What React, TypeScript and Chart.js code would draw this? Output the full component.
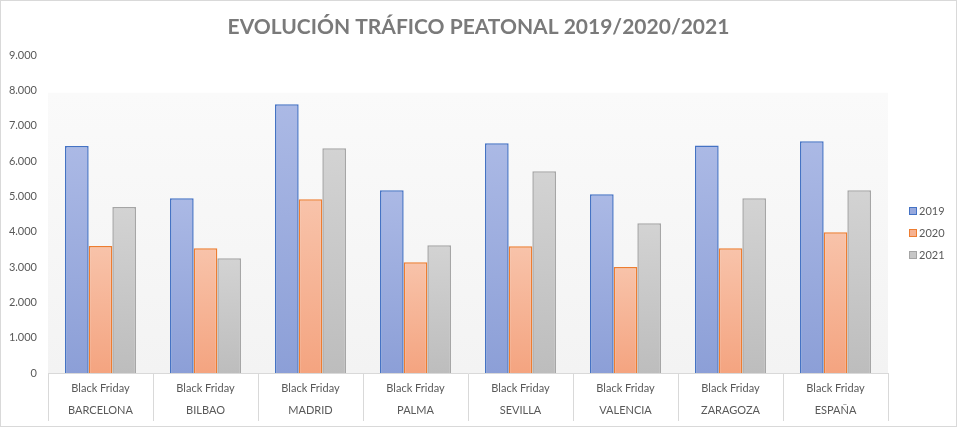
import React, { useEffect, useRef } from 'react';
import { Chart, registerables } from 'chart.js';

Chart.register(...registerables);

const categories = ['BARCELONA', 'BILBAO', 'MADRID', 'PALMA', 'SEVILLA', 'VALENCIA', 'ZARAGOZA', 'ESPAÑA'];
const subLabel = 'Black Friday';
const seriesNames = ['2019', '2020', '2021'];
const values2019 = [6425, 4945, 7605, 5170, 6500, 5060, 6440, 6560];
const values2020 = [3595, 3530, 4915, 3135, 3585, 3000, 3530, 3980];
const values2021 = [4700, 3245, 6360, 3615, 5710, 4235, 4945, 5170];
const yMin = 0;
const yMax = 9000;
const yStep = 1000;
const titleText = 'EVOLUCIÓN TRÁFICO PEATONAL 2019/2020/2021';

const FONT = 'Lato, "Open Sans", sans-serif';
const TEXT = '#595959';

const palette = [
  { top: '#abb9e5', bottom: '#8c9fd7', border: '#4472c4', legend: '#97a9dd' },
  { top: '#f8c3aa', bottom: '#f4a480', border: '#ed7d31', legend: '#f6b291' },
  { top: '#d3d3d3', bottom: '#bdbdbd', border: '#a5a5a5', legend: '#c7c7c7' },
];

function fmt(v: number): string {
  const s = Math.round(v).toString();
  return s.replace(/\B(?=(\d{3})+(?!\d))/g, '.');
}

function barGradient(i: number) {
  return (ctx: any) => {
    const chart = ctx.chart;
    const area = chart.chartArea;
    const ys = chart.scales?.y;
    if (!area || !ys || ctx.raw == null) return palette[i].bottom;
    const top = ys.getPixelForValue(ctx.raw);
    const base = ys.getPixelForValue(0);
    if (!isFinite(top) || !isFinite(base) || base - top < 1) return palette[i].bottom;
    const g = chart.ctx.createLinearGradient(0, top, 0, base);
    g.addColorStop(0, palette[i].top);
    g.addColorStop(1, palette[i].bottom);
    return g;
  };
}

const decorPlugin = {
  id: 'decor',
  beforeDraw(chart: any) {
    const { ctx, width, height } = chart;
    ctx.save();
    ctx.fillStyle = '#ffffff';
    ctx.fillRect(0, 0, width, height);
    ctx.strokeStyle = '#d9d9d9';
    ctx.lineWidth = 1;
    ctx.strokeRect(0.5, 0.5, width - 1, height - 2);
    ctx.fillStyle = '#7a7a7a';
    ctx.font = `bold 21px ${FONT}`;
    ctx.textAlign = 'center';
    ctx.textBaseline = 'middle';
    ctx.fillText(titleText, width / 2, 27);
    ctx.restore();
  },
  beforeDatasetsDraw(chart: any) {
    const { ctx, chartArea } = chart;
    const ys = chart.scales.y;
    const top = ys.getPixelForValue(7930);
    const bottom = chartArea.bottom;
    ctx.save();
    const g = ctx.createLinearGradient(0, top, 0, bottom);
    g.addColorStop(0, '#fafafa');
    g.addColorStop(1, '#f3f3f3');
    ctx.fillStyle = g;
    ctx.fillRect(chartArea.left, top, chartArea.right - chartArea.left, bottom - top);
    ctx.restore();
  },
  afterDraw(chart: any) {
    const { ctx, chartArea } = chart;
    const cx = chartArea.right + 21;
    const cy = (chartArea.top + chartArea.bottom) / 2 + 19;
    ctx.save();
    ctx.font = `11px ${FONT}`;
    ctx.textBaseline = 'middle';
    ctx.textAlign = 'left';
    chart.data.datasets.forEach((ds: any, i: number) => {
      const y = cy + (i - 1) * 22;
      ctx.fillStyle = palette[i].legend;
      ctx.fillRect(cx, y - 4, 8, 8);
      ctx.strokeStyle = palette[i].border;
      ctx.lineWidth = 1;
      ctx.strokeRect(cx + 0.5, y - 3.5, 7, 7);
      ctx.fillStyle = TEXT;
      ctx.fillText(ds.label, cx + 10, y);
    });
    ctx.restore();
  },
};

export default function App() {
  const ref = useRef<HTMLCanvasElement | null>(null);

  useEffect(() => {
    document.body.style.margin = '0';
    const canvas = ref.current;
    if (!canvas) return;
    const series = [values2019, values2020, values2021];
    const chart = new Chart(canvas, {
      type: 'bar',
      data: {
        labels: categories.map((c) => [subLabel, c]),
        datasets: series.map((vals, i) => ({
          label: seriesNames[i],
          data: vals,
          backgroundColor: barGradient(i),
          borderColor: palette[i].border,
          borderWidth: 1.5,
          categoryPercentage: 0.676,
          barPercentage: 1.0,
        })),
      },
      options: {
        responsive: false,
        animation: false,
        devicePixelRatio: 1,
        layout: { padding: { left: 8, right: 69, top: 55, bottom: 0 } },
        plugins: {
          legend: { display: false },
          tooltip: { enabled: false },
          title: { display: false },
        },
        scales: {
          x: {
            grid: {
              display: true,
              offset: true,
              drawOnChartArea: false,
              drawTicks: true,
              tickLength: 48,
              color: '#d9d9d9',
            },
            border: { display: true, color: '#d9d9d9' },
            ticks: {
              color: TEXT,
              font: { family: FONT, size: 11, lineHeight: 2 },
              padding: -44,
              maxRotation: 0,
              autoSkip: false,
            },
            afterFit: (s: any) => {
              s.height = 55;
            },
          },
          y: {
            min: yMin,
            max: yMax,
            grid: { display: false, drawTicks: false },
            border: { display: false },
            ticks: {
              stepSize: yStep,
              color: TEXT,
              font: { family: FONT, size: 11 },
              padding: 11,
              callback: (v: any) => fmt(Number(v)),
            },
            afterFit: (s: any) => {
              s.width = 40;
            },
          },
        },
      },
      plugins: [decorPlugin],
    });
    return () => chart.destroy();
  }, []);

  return (
    <div style={{ width: 957, height: 428 }}>
      <canvas ref={ref} width={957} height={428} style={{ display: 'block' }} />
    </div>
  );
}
